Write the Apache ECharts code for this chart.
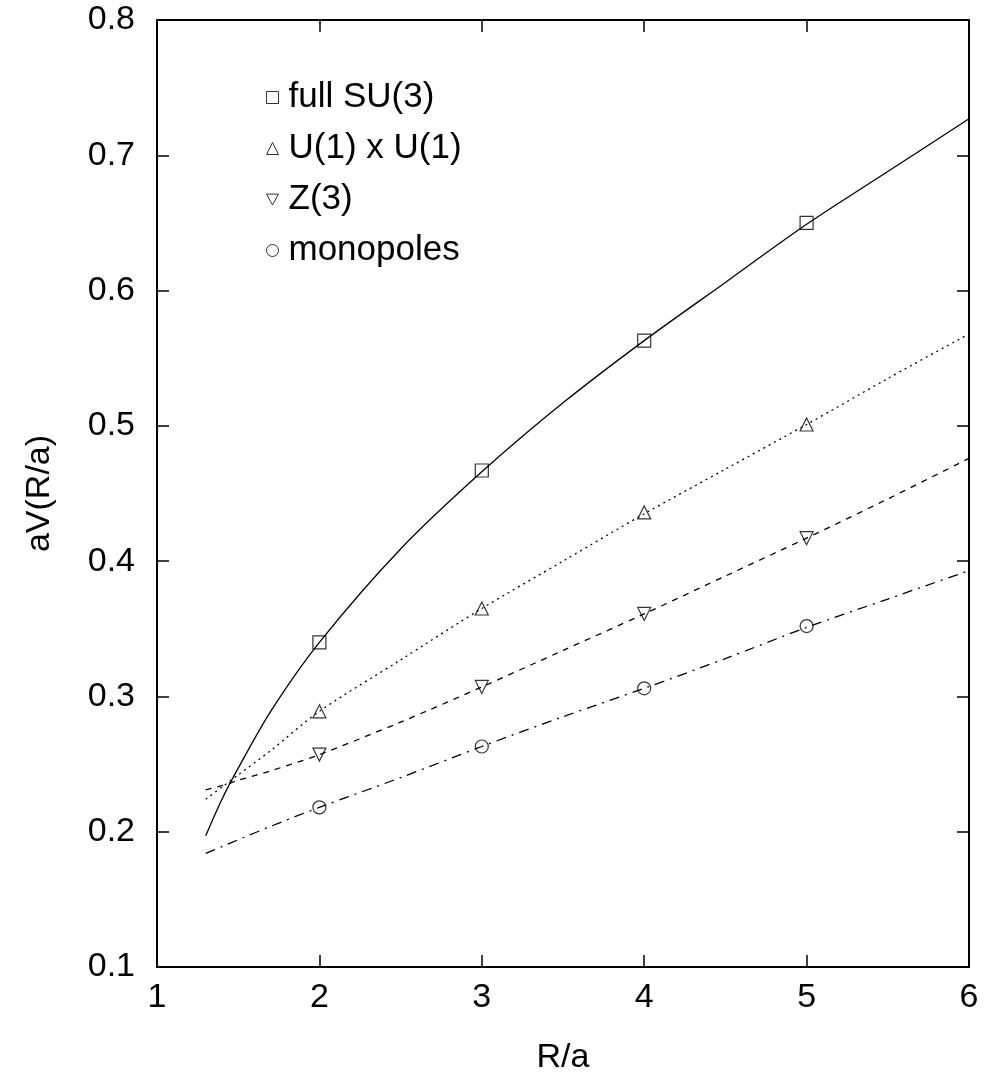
<!DOCTYPE html>
<html>
<head>
<meta charset="utf-8">
<title>aV(R/a)</title>
<script src="https://cdn.jsdelivr.net/npm/echarts@6/dist/echarts.min.js"></script>
<style>
  html, body { margin: 0; padding: 0; background: #fff; }
  #chart { width: 984px; height: 1082px; }
</style>
</head>
<body>
<div id="chart"></div>
<script>
// measured points at R/a = 2..5
const rPoints = [2, 3, 4, 5];
const su3Points = [0.340, 0.467, 0.563, 0.650];
const u1Points = [0.289, 0.365, 0.436, 0.501];
const z3Points = [0.257, 0.307, 0.361, 0.417];
const monoPoints = [0.218, 0.263, 0.306, 0.352];

// fit curves
const rFit = [1.3, 1.4, 1.5, 1.7, 2, 2.5, 3, 3.5, 4, 4.5, 5, 5.5, 6];
const su3Fit = [0.197, 0.224, 0.247, 0.289, 0.340, 0.409, 0.466, 0.517, 0.563, 0.606, 0.649, 0.688, 0.727];
const u1Fit = [0.224, 0.233, 0.242, 0.260, 0.289, 0.327, 0.365, 0.400, 0.435, 0.468, 0.501, 0.535, 0.568];
const z3Fit = [0.231, 0.234, 0.238, 0.245, 0.257, 0.281, 0.307, 0.334, 0.361, 0.389, 0.417, 0.446, 0.476];
const monoFit = [0.184, 0.189, 0.194, 0.204, 0.218, 0.240, 0.263, 0.285, 0.306, 0.328, 0.351, 0.372, 0.393];

const legendNames = ['full SU(3)', 'U(1) x U(1)', 'Z(3)', 'monopoles'];

const font = '"Liberation Sans", Arial, Helvetica, sans-serif';
const invTriangle = 'path://M0,0 L10,0 L5,9 Z';

function pairs(xs, ys) {
  return xs.map((x, i) => [x, ys[i]]);
}

function fitLine(name, ys, type) {
  return {
    name: name,
    type: 'line',
    data: pairs(rFit, ys),
    showSymbol: false,
    smooth: 0.3,
    silent: true,
    lineStyle: { color: '#000', width: 1.3, type: type },
    z: 2
  };
}

function markers(name, ys, symbol, rotate) {
  return {
    name: name,
    type: 'scatter',
    data: pairs(rPoints, ys),
    symbol: symbol,
    symbolSize: 13,
    symbolRotate: rotate || 0,
    itemStyle: { color: 'rgba(255,255,255,0)', borderColor: '#000', borderWidth: 1.2 },
    z: 3
  };
}

const chart = echarts.init(document.getElementById('chart'));
chart.setOption({
  backgroundColor: '#fff',
  animation: false,
  textStyle: { fontFamily: font },
  grid: { left: 157, right: 15, top: 20, bottom: 115 },
  legend: {
    orient: 'vertical',
    left: 261,
    top: 72,
    itemWidth: 12,
    itemHeight: 12,
    itemGap: 10,
    selectedMode: false,
    textStyle: { fontSize: 35, lineHeight: 41, color: '#000', fontFamily: font, padding: [0, 0, 0, 5] },
    data: [
      { name: legendNames[0], icon: 'rect', itemStyle: { color: '#fff', borderColor: '#000', borderWidth: 1 } },
      { name: legendNames[1], icon: 'triangle', itemStyle: { color: '#fff', borderColor: '#000', borderWidth: 1 } },
      { name: legendNames[2], icon: invTriangle, itemStyle: { color: '#fff', borderColor: '#000', borderWidth: 1 } },
      { name: legendNames[3], icon: 'circle', itemStyle: { color: '#fff', borderColor: '#000', borderWidth: 1 } }
    ]
  },
  xAxis: [
    {
      type: 'value', min: 1, max: 6, interval: 1,
      name: 'R/a', nameLocation: 'middle', nameGap: 74,
      nameTextStyle: { fontSize: 34, color: '#000', fontFamily: font },
      axisLine: { lineStyle: { color: '#000', width: 2 } },
      axisTick: { inside: true, length: 12, lineStyle: { color: '#000', width: 1.5 } },
      axisLabel: { fontSize: 34, color: '#000', margin: 14, fontFamily: font },
      splitLine: { show: false }
    },
    {
      type: 'value', min: 1, max: 6, interval: 1, position: 'top',
      axisLine: { lineStyle: { color: '#000', width: 2 } },
      axisTick: { inside: true, length: 12, lineStyle: { color: '#000', width: 1.5 } },
      axisLabel: { show: false },
      splitLine: { show: false }
    }
  ],
  yAxis: [
    {
      type: 'value', min: 0.1, max: 0.8, interval: 0.1,
      name: 'aV(R/a)', nameLocation: 'middle', nameGap: 100, nameRotate: 90,
      nameTextStyle: { fontSize: 34, color: '#000', fontFamily: font },
      axisLine: { lineStyle: { color: '#000', width: 2 } },
      axisTick: { inside: true, length: 12, lineStyle: { color: '#000', width: 1.5 } },
      axisLabel: { fontSize: 34, color: '#000', margin: 22, fontFamily: font, formatter: v => v.toFixed(1) },
      splitLine: { show: false }
    },
    {
      type: 'value', min: 0.1, max: 0.8, interval: 0.1, position: 'right',
      axisLine: { lineStyle: { color: '#000', width: 2 } },
      axisTick: { inside: true, length: 12, lineStyle: { color: '#000', width: 1.5 } },
      axisLabel: { show: false },
      splitLine: { show: false }
    }
  ],
  series: [
    fitLine('fit SU(3)', su3Fit, 'solid'),
    fitLine('fit U(1)', u1Fit, [2, 4]),
    fitLine('fit Z(3)', z3Fit, [6, 6]),
    fitLine('fit mono', monoFit, [10, 6, 2, 6]),
    markers(legendNames[0], su3Points, 'rect'),
    markers(legendNames[1], u1Points, 'triangle'),
    markers(legendNames[2], z3Points, 'triangle', 180),
    markers(legendNames[3], monoPoints, 'circle')
  ]
});
</script>
</body>
</html>
